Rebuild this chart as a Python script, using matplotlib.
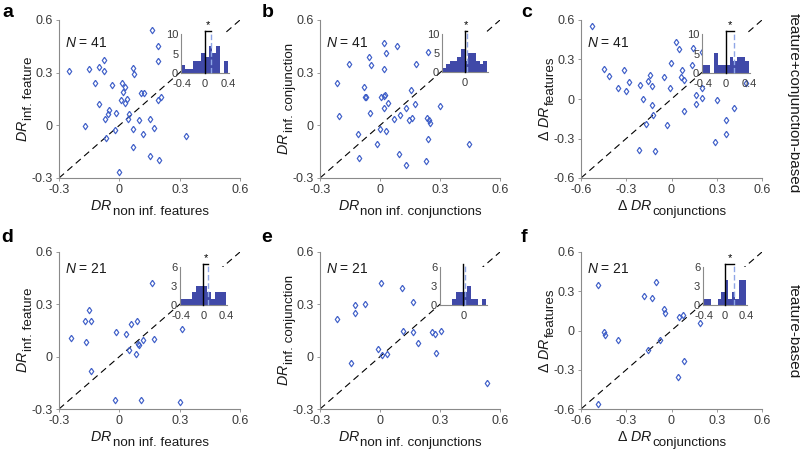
import matplotlib
matplotlib.use("Agg")
import matplotlib.pyplot as plt

plt.rcParams['font.family'] = ['Liberation Sans', 'DejaVu Sans']
plt.rcParams['mathtext.fontset'] = 'custom'
plt.rcParams['mathtext.rm'] = 'Liberation Sans'
plt.rcParams['mathtext.it'] = 'Liberation Sans:italic'

# --- scatter data ---
a_x = [0.160, 0.192, 0.193, -0.248, -0.150, -0.103, -0.078, -0.075, -0.123, -0.037, 0.013,
       0.030, 0.017, 0.008, 0.038, 0.030, -0.100, -0.053, -0.055, -0.017, -0.072, 0.048,
       0.045, 0.097, 0.107, 0.125, 0.075, 0.070, 0.193, 0.205, -0.173, -0.023, -0.068,
       0.068, 0.118, 0.152, 0.170, 0.068, 0.153, 0.197, 0.000, 0.332]
a_y = [0.543, 0.453, 0.364, 0.311, 0.320, 0.334, 0.372, 0.311, 0.242, 0.229, 0.242,
       0.216, 0.189, 0.147, 0.149, 0.130, 0.120, 0.090, 0.067, 0.071, 0.036, 0.065,
       0.036, 0.029, 0.187, 0.185, 0.290, 0.328, 0.147, 0.164, -0.001, -0.028, -0.072,
       -0.021, -0.047, 0.035, -0.015, -0.123, -0.173, -0.195, -0.264, -0.062]

b_x = [0.018, 0.083, 0.028, -0.055, -0.153, -0.047, 0.178, 0.240, 0.020, -0.213, -0.078,
       -0.073, -0.068, 0.005, 0.022, 0.027, 0.038, 0.022, 0.155, 0.175, -0.205, -0.050,
       0.068, 0.098, 0.128, 0.145, 0.162, 0.300, 0.233, 0.247, 0.248, -0.002, 0.030,
       -0.112, -0.017, 0.097, -0.103, 0.132, 0.230, 0.242, 0.447]
b_y = [0.467, 0.453, 0.410, 0.390, 0.349, 0.345, 0.349, 0.415, 0.320, 0.242, 0.216,
       0.162, 0.160, 0.164, 0.168, 0.174, 0.128, 0.101, 0.200, 0.124, 0.054, 0.071,
       0.035, 0.061, 0.100, 0.029, 0.042, 0.109, 0.044, 0.029, 0.016, -0.022, -0.034,
       -0.049, -0.108, -0.163, -0.184, -0.226, -0.203, -0.076, -0.106]

c_x = [-0.527, -0.449, -0.412, -0.352, -0.317, -0.301, -0.279, -0.208, -0.144, -0.153,
       -0.126, -0.186, -0.126, -0.122, -0.171, -0.213, -0.109, -0.049, -0.002, -0.011,
       -0.029, 0.027, 0.051, 0.060, 0.069, 0.080, 0.144, 0.201, 0.137, 0.162, 0.201,
       0.201, 0.080, 0.162, 0.299, 0.361, 0.361, 0.286, 0.412, 0.496]
c_y = [0.555, 0.227, 0.171, 0.086, 0.224, 0.063, 0.126, 0.106, 0.184, 0.139,
       0.101, -0.003, -0.045, -0.119, -0.187, -0.391, -0.393, 0.169, 0.270, 0.081,
       -0.194, 0.434, 0.378, 0.169, 0.222, 0.144, 0.391, 0.360, 0.257, 0.028, 0.083,
       0.010, -0.093, -0.038, -0.010, -0.159, -0.265, -0.328, -0.068, 0.124]

d_x = [0.162, -0.151, -0.171, -0.143, -0.241, -0.166, -0.143, -0.017, 0.031, 0.058, 0.090,
       0.048, 0.096, 0.118, 0.085, 0.170, 0.311, -0.021, 0.110, 0.301, 0.094]
d_y = [0.423, 0.267, 0.202, 0.202, 0.109, 0.084, -0.081, 0.143, 0.132, 0.187, 0.204,
       0.039, 0.065, 0.096, 0.018, 0.101, 0.160, -0.251, -0.251, -0.262, 0.070]

e_x = [0.004, 0.108, 0.167, -0.123, -0.074, -0.124, -0.216, 0.117, 0.166, 0.189, -0.011,
       0.009, 0.035, -0.144, 0.259, 0.277, 0.304, 0.280, 0.536]
e_y = [0.425, 0.394, 0.313, 0.296, 0.303, 0.250, 0.214, 0.147, 0.140, 0.081, 0.044,
       0.010, 0.016, -0.035, 0.140, 0.132, 0.147, 0.023, -0.152]

f_x = [-0.489, -0.102, -0.182, -0.126, -0.053, -0.044, 0.049, 0.073, 0.188, -0.447,
       -0.443, -0.352, -0.153, -0.075, 0.084, 0.040, -0.487]
f_y = [0.349, 0.374, 0.265, 0.250, 0.164, 0.131, 0.101, 0.115, 0.057, -0.009,
       -0.035, -0.072, -0.148, -0.072, -0.230, -0.359, -0.562]

# --- inset histograms (difference distributions) ---
hist_edges = [-0.4, -0.333, -0.267, -0.2, -0.133, -0.067, 0.0, 0.067, 0.133, 0.2, 0.267, 0.333, 0.4]
a_counts = [2, 1, 1, 3, 3, 5, 4, 7, 5, 7, 0, 3]
b_counts = [1, 2, 3, 3, 4, 6, 3, 5, 5, 3, 2, 3]
c_counts = [2, 2, 0, 5, 2, 2, 2, 4, 3, 4, 4, 3]
d_counts = [1, 1, 1, 2, 3, 3, 3, 2, 1, 2, 2, 2]
e_counts = [0, 0, 0, 1, 2, 2, 2, 3, 1, 1, 0, 1]
f_counts = [1, 1, 0, 0, 1, 2, 4, 1, 2, 1, 4, 4]
means = {'a': 0.11, 'b': 0.05, 'c': 0.15, 'd': 0.08, 'e': 0.03, 'f': 0.18}
signif = {'a': True, 'b': True, 'c': True, 'd': True, 'e': False, 'f': True}

PT_COL = '#3F5FC8'
BAR_COL = '#4049A8'
MEAN_COL = '#8FA6E6'
SPINE_COL = '#8a8a8a'
TICK_COL = '#3a3a3a'
LAB_COL = '#1a1a1a'
DIAMOND = [(0, 1), (0.7, 0), (0, -1), (-0.7, 0), (0, 1)]

W, H = 800, 453
fig = plt.figure(figsize=(8, 4.53), dpi=100)
renderer = fig.canvas.get_renderer()


def px_axes(l, t, r, b):
    return fig.add_axes([l / W, 1 - b / H, (r - l) / W, (b - t) / H])


def style(ax, fs):
    for s in ['top', 'right']:
        ax.spines[s].set_visible(False)
    for s in ['left', 'bottom']:
        ax.spines[s].set_color(SPINE_COL)
        ax.spines[s].set_linewidth(0.8)
    ax.tick_params(direction='out', length=2.5, width=0.6, color=SPINE_COL,
                   labelsize=fs, labelcolor=TICK_COL, pad=2)


def two_part_label(ax, main, sub, axis, pad):
    bb = ax.get_window_extent(renderer)
    kw = dict(color=LAB_COL)
    if axis == 'x':
        t1 = ax.text(0, 0, main, transform=ax.transAxes, ha='left', va='top', fontsize=10.3, **kw)
        t2 = ax.annotate(sub, xy=(1, 0), xycoords=t1, xytext=(0, -3.5), textcoords='offset points',
                         ha='left', va='bottom', fontsize=9.6, **kw)
        w = t1.get_window_extent(renderer).width + t2.get_window_extent(renderer).width
        t1.set_position(((bb.width - w) / 2 / bb.width, -pad / bb.height))
    else:
        t1 = ax.text(0, 0, main, transform=ax.transAxes, rotation=90, ha='right', va='bottom',
                     fontsize=10.3, **kw)
        t2 = ax.annotate(sub, xy=(1, 1), xycoords=t1, xytext=(3.5, 0), textcoords='offset points',
                         rotation=90, ha='right', va='bottom', fontsize=9.6, **kw)
        h = t1.get_window_extent(renderer).height + t2.get_window_extent(renderer).height
        t1.set_position((-pad / bb.width, (bb.height - h) / 2 / bb.height))


def scatter_panel(box, xs, ys, lim, ticks, xlab, ylab, n_text, n_y):
    ax = px_axes(*box)
    ax.plot([lim[0], lim[1]], [lim[0], lim[1]], color='k', lw=0.8, ls=(0, (6, 4)))
    ax.plot(xs, ys, ls='none', marker=DIAMOND, ms=4.6, mfc='none', mec=PT_COL, mew=0.85)
    ax.set_xlim(lim)
    ax.set_ylim(lim)
    ax.set_xticks(ticks)
    ax.set_yticks(ticks)
    ax.set_xticklabels([f'{t:g}' for t in ticks])
    ax.set_yticklabels([f'{t:g}' for t in ticks])
    style(ax, 9)
    ax.text(0.035, n_y, r'$N$ = ' + n_text, transform=ax.transAxes, ha='left', va='center',
            fontsize=10, color=LAB_COL)
    two_part_label(ax, xlab[0], xlab[1], 'x', 21)
    two_part_label(ax, ylab[0], ylab[1], 'y', 29)
    return ax


def hist_inset(box, counts, key, ymax, yticks, xticks):
    ax = px_axes(*box)
    widths = [hist_edges[i + 1] - hist_edges[i] for i in range(len(counts))]
    ax.bar(hist_edges[:-1], counts, width=widths, align='edge', color=BAR_COL, lw=0)
    ax.set_xlim(-0.41, 0.42)
    ax.set_ylim(0, ymax)
    ax.set_yticks(yticks)
    ax.set_xticks(xticks)
    ax.set_xticklabels([f'{t:g}' for t in xticks])
    style(ax, 8)
    ax.tick_params(length=0)
    ax.tick_params(axis='y', pad=2)
    ax.tick_params(axis='x', pad=4)
    m = means[key]
    top = ymax * 1.07
    ax.plot([m, m], [0, top * 0.98], color=MEAN_COL, lw=1, ls=(0, (4, 2)), clip_on=False, zorder=3)
    ax.plot([0, 0], [0, top], color='k', lw=1, clip_on=False, zorder=4)
    if signif[key]:
        ax.plot([0, m], [top, top], color='k', lw=1, clip_on=False, zorder=4)
        ax.text(m / 2, top * 1.02, '*', ha='center', va='bottom', fontsize=8, color='k')
    return ax


R1 = (20, 178)
R2 = (252, 409)
C = [(59, 240), (320, 500), (581, 762)]

lbl_dr = r'$DR$'
lbl_ddr = r'$\Delta\ DR$'

scatter_panel((C[0][0], R1[0], C[0][1], R1[1]), a_x, a_y, (-0.3, 0.6), [-0.3, 0, 0.3, 0.6],
              (lbl_dr, 'non inf. features'), (lbl_dr, 'inf. feature'), '41', 0.856)
scatter_panel((C[1][0], R1[0], C[1][1], R1[1]), b_x, b_y, (-0.3, 0.6), [-0.3, 0, 0.3, 0.6],
              (lbl_dr, 'non inf. conjunctions'), (lbl_dr, 'inf. conjunction'), '41', 0.856)
scatter_panel((C[2][0], R1[0], C[2][1], R1[1]), c_x, c_y, (-0.6, 0.6), [-0.6, -0.3, 0, 0.3, 0.6],
              (lbl_ddr, 'conjunctions'), (lbl_ddr, 'features'), '41', 0.856)
scatter_panel((C[0][0], R2[0], C[0][1], R2[1]), d_x, d_y, (-0.3, 0.6), [-0.3, 0, 0.3, 0.6],
              (lbl_dr, 'non inf. features'), (lbl_dr, 'inf. feature'), '21', 0.894)
scatter_panel((C[1][0], R2[0], C[1][1], R2[1]), e_x, e_y, (-0.3, 0.6), [-0.3, 0, 0.3, 0.6],
              (lbl_dr, 'non inf. conjunctions'), (lbl_dr, 'inf. conjunction'), '21', 0.894)
scatter_panel((C[2][0], R2[0], C[2][1], R2[1]), f_x, f_y, (-0.6, 0.6), [-0.6, -0.3, 0, 0.3, 0.6],
              (lbl_ddr, 'conjunctions'), (lbl_ddr, 'features'), '21', 0.894)

hist_inset((181, 34, 229, 73), a_counts, 'a', 10, [0, 5, 10], [-0.4, 0, 0.4])
hist_inset((442, 34, 488, 72), b_counts, 'b', 10, [0, 5, 10], [0])
hist_inset((702, 34, 750, 73), c_counts, 'c', 10, [0, 5, 10], [-0.4, 0, 0.4])
hist_inset((180, 267, 227, 305), d_counts, 'd', 6, [0, 3, 6], [-0.4, 0, 0.4])
hist_inset((440, 267, 487, 305), e_counts, 'e', 6, [0, 3, 6], [0])
hist_inset((703, 267, 747, 305), f_counts, 'f', 6, [0, 3, 6], [-0.4, 0, 0.4])

# panel letters
for letter, x, y in [('a', 2, 17), ('b', 262, 17), ('c', 521, 17),
                     ('d', 1, 242), ('e', 261, 242), ('f', 521, 242)]:
    fig.text(x / W, 1 - y / H, letter, fontsize=14, fontweight='bold', ha='left', va='baseline')

# row labels on the right
fig.text(794 / W, 1 - 103 / H, 'feature+conjunction-based', rotation=-90, ha='center', va='center',
         fontsize=11, color=LAB_COL)
fig.text(794 / W, 1 - 331 / H, 'feature-based', rotation=-90, ha='center', va='center',
         fontsize=11, color=LAB_COL)

fig.savefig('out.png', dpi=100)
